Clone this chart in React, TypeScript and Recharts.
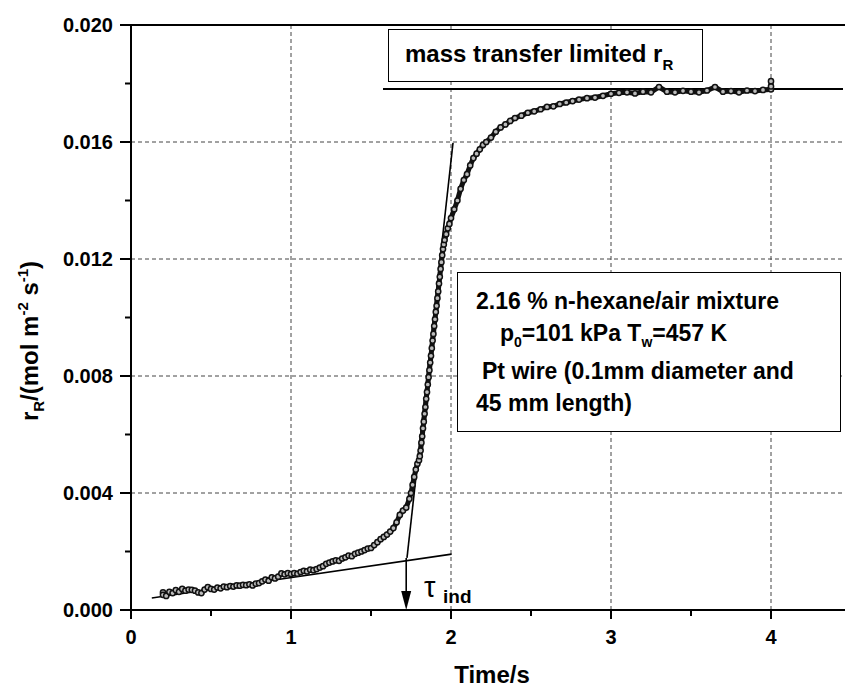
import { CartesianGrid, Line, LineChart, ReferenceDot, ReferenceLine, XAxis, YAxis } from 'recharts';

const FONT = '"Liberation Sans", Arial, Helvetica, sans-serif';

// measured reaction rate r_R (mol m^-2 s^-1) vs time (s)
const times = [
  0.2, 0.2, 0.22, 0.24, 0.26, 0.28, 0.3, 0.32, 0.34, 0.36, 0.38, 0.4, 0.42, 0.44, 0.46, 0.48,
  0.5, 0.52, 0.54, 0.56, 0.58, 0.6, 0.62, 0.64, 0.66, 0.68, 0.7, 0.72, 0.74, 0.76, 0.78,
  0.8, 0.82, 0.84, 0.86, 0.88, 0.9, 0.92, 0.94, 0.96, 0.98, 1.0, 1.02, 1.04, 1.06, 1.08,
  1.1, 1.12, 1.14, 1.16, 1.18, 1.2, 1.22, 1.24, 1.26, 1.28, 1.3, 1.32, 1.34, 1.36, 1.38,
  1.4, 1.42, 1.44, 1.46, 1.48, 1.5, 1.52, 1.54, 1.56, 1.58, 1.6, 1.62, 1.64, 1.66, 1.68,
  1.7, 1.72, 1.74, 1.75, 1.76, 1.77, 1.78, 1.79, 1.8, 1.805, 1.81, 1.815, 1.82, 1.825, 1.83,
  1.835, 1.84, 1.845, 1.85, 1.855, 1.86, 1.865, 1.87, 1.875, 1.88, 1.885, 1.89, 1.895, 1.9,
  1.905, 1.91, 1.915, 1.92, 1.925, 1.93, 1.935, 1.94, 1.945, 1.95, 1.955, 1.96, 1.97, 1.98,
  1.99, 2.0, 2.02, 2.04, 2.06, 2.08, 2.1, 2.12, 2.14, 2.16, 2.18, 2.2, 2.22, 2.25, 2.28,
  2.31, 2.34, 2.37, 2.4, 2.44, 2.48, 2.52, 2.56, 2.6, 2.64, 2.68, 2.72, 2.76, 2.8, 2.85,
  2.9, 2.95, 3.0, 3.05, 3.1, 3.15, 3.2, 3.25, 3.3, 3.35, 3.4, 3.45, 3.5, 3.55, 3.6, 3.65,
  3.7, 3.75, 3.8, 3.85, 3.9, 3.95, 4.0, 4.0, 4.0,
];
const rates = [
  0.0006, 0.00052, 0.00048, 0.00062, 0.00058, 0.00068, 0.00062, 0.00072, 0.00066, 0.0007, 0.00069,
  0.00066, 0.0006, 0.00058, 0.0007, 0.00078, 0.00072, 0.0007, 0.00077, 0.00074, 0.0008, 0.00078,
  0.00082, 0.0008, 0.00084, 0.00083, 0.00086, 0.00085, 0.00088, 0.00084, 0.0009, 0.00092, 0.00098,
  0.00104, 0.001, 0.00112, 0.00108, 0.00114, 0.00125, 0.00122, 0.00126, 0.00123, 0.00126, 0.00124,
  0.0013, 0.00134, 0.00132, 0.00138, 0.00136, 0.0014, 0.00145, 0.0015, 0.00158, 0.00162, 0.00166,
  0.0017, 0.00168, 0.00176, 0.0018, 0.00186, 0.00184, 0.00192, 0.00196, 0.002, 0.00205, 0.0021,
  0.00212, 0.00222, 0.00232, 0.00242, 0.0025, 0.00258, 0.00268, 0.0028, 0.003, 0.00325, 0.0034,
  0.0035, 0.0038, 0.004, 0.00428, 0.00455, 0.0048, 0.005, 0.00512, 0.00526, 0.00545, 0.00572,
  0.00594, 0.00621, 0.00644, 0.00671, 0.00694, 0.00722, 0.00745, 0.00771, 0.00796, 0.0082, 0.00846,
  0.00869, 0.00895, 0.00921, 0.00944, 0.00971, 0.00994, 0.01019, 0.0104, 0.01066, 0.01089, 0.01116,
  0.01139, 0.01166, 0.01189, 0.01213, 0.01234, 0.0125, 0.01265, 0.01285, 0.01305, 0.0132, 0.0134,
  0.0137, 0.014, 0.0144, 0.0147, 0.0149, 0.0152, 0.01545, 0.0156, 0.01575, 0.0159, 0.016, 0.01615,
  0.01635, 0.0165, 0.0166, 0.01672, 0.01682, 0.0169, 0.017, 0.01705, 0.01712, 0.0172, 0.01722,
  0.0173, 0.01735, 0.0174, 0.01745, 0.0175, 0.01752, 0.01758, 0.01765, 0.01768, 0.0177, 0.01766,
  0.01772, 0.0177, 0.01788, 0.01772, 0.0177, 0.01775, 0.01772, 0.0177, 0.01776, 0.01788, 0.01772,
  0.01774, 0.0177, 0.01776, 0.01774, 0.01778, 0.0178, 0.0179, 0.01808,
];

const xTicks = [0, 0.5, 1, 1.5, 2, 2.5, 3, 3.5, 4];
const xMajor = [0, 1, 2, 3, 4];
const yTicks = [0, 0.002, 0.004, 0.006, 0.008, 0.01, 0.012, 0.014, 0.016, 0.018, 0.02];
const yMajor = ['0.000', '0.004', '0.008', '0.012', '0.016', '0.020'];
const xGrid = [1, 2, 3, 4];
const yGrid = [0.004, 0.008, 0.012, 0.016];

const baseTangent = [{ x: 0.13, y: 0.00041 }, { x: 2.004, y: 0.00191 }];
const steepTangent = [{ x: 1.725, y: 0.00178 }, { x: 2.0125, y: 0.01597 }];
const plateauLine = [{ x: 1.575, y: 0.01781 }, { x: 4.45, y: 0.01781 }];
const tauX = 1.72;
const arrowShaft = [{ x: tauX, y: 0.00178 }, { x: tauX, y: 0.0005 }];

const data = times.map((t, i) => ({ t, r: rates[i] }));

function XTick(props: any) {
  const { x, y, payload } = props;
  const major = xMajor.includes(payload.value);
  return (
    <g>
      <line x1={x} y1={y} x2={x} y2={y + (major ? 9 : 6)} stroke="#000" strokeWidth={2} />
      {major && (
        <text x={x} y={y + 34} textAnchor="middle" fontFamily={FONT} fontWeight="bold" fontSize={20} fill="#000">
          {payload.value}
        </text>
      )}
    </g>
  );
}

function YTick(props: any) {
  const { x, y, payload } = props;
  const label = payload.value.toFixed(3);
  const major = yMajor.includes(label);
  return (
    <g>
      <line x1={x} y1={y} x2={x - (major ? 11 : 6)} y2={y} stroke="#000" strokeWidth={2} />
      {major && (
        <text x={x - 18} y={y + 7} textAnchor="end" fontFamily={FONT} fontWeight="bold" fontSize={20} fill="#000">
          {label}
        </text>
      )}
    </g>
  );
}

function ArrowHead(props: any) {
  const { cx, cy } = props;
  return <polygon points={`${cx},${cy} ${cx - 5},${cy - 19} ${cx + 5},${cy - 19}`} fill="#000" />;
}

export default function App() {
  return (
    <div style={{ position: 'absolute', left: 0, top: 0, width: 845, height: 690, overflow: 'hidden', background: '#fff' }}>
      <LineChart width={860} height={690} data={data} margin={{ top: 25, right: 9, left: 0, bottom: 40 }}>
        <CartesianGrid
          stroke="#444"
          strokeDasharray="4 3"
          verticalValues={xGrid}
          horizontalValues={yGrid}
        />
        <XAxis
          dataKey="t"
          type="number"
          domain={[0, 4.5]}
          ticks={xTicks}
          interval={0}
          height={40}
          tickSize={0}
          tickMargin={0}
          tickLine={false}
          tick={<XTick />}
          axisLine={{ stroke: '#000', strokeWidth: 2 }}
          allowDataOverflow
        />
        <YAxis
          type="number"
          domain={[0, 0.02]}
          ticks={yTicks}
          interval={0}
          width={131}
          tickSize={0}
          tickMargin={0}
          tickLine={false}
          tick={<YTick />}
          axisLine={{ stroke: '#000', strokeWidth: 2 }}
          allowDataOverflow
        />
        <ReferenceLine y={0.02} stroke="#000" strokeWidth={2} />
        <ReferenceLine segment={plateauLine} stroke="#000" strokeWidth={2} />
        <ReferenceLine segment={baseTangent} stroke="#000" strokeWidth={1.6} />
        <ReferenceLine segment={steepTangent} stroke="#000" strokeWidth={1.6} />
        <ReferenceLine segment={arrowShaft} stroke="#000" strokeWidth={1.6} />
        <ReferenceDot x={tauX} y={0} shape={<ArrowHead />} ifOverflow="visible" />
        <Line
          dataKey="r"
          stroke="#111"
          strokeWidth={5}
          dot={{ r: 2.6, fill: '#bbb', stroke: '#111', strokeWidth: 1.5 }}
          isAnimationActive={false}
        />
      </LineChart>

      <svg width={845} height={690} style={{ position: 'absolute', left: 0, top: 0, pointerEvents: 'none' }}>
        <g fontFamily={FONT} fontWeight="bold" fill="#000">
          <rect x={388.5} y={29.5} width={314} height={52} fill="#fff" stroke="#000" strokeWidth={1} />
          <text x={405} y={62} fontSize={24}>
            mass transfer limited r<tspan fontSize={15} dy={8}>R</tspan>
          </text>

          <rect x={457.5} y={272.5} width={383} height={159} fill="#fff" stroke="#000" strokeWidth={1} />
          <text x={476} y={309} fontSize={23}>2.16 % n-hexane/air mixture</text>
          <text x={500} y={341} fontSize={23}>
            p<tspan fontSize={14} dy={6}>0</tspan>
            <tspan dy={-6}>=101 kPa T</tspan>
            <tspan fontSize={14} dy={6}>w</tspan>
            <tspan dy={-6}>=457 K</tspan>
          </text>
          <text x={482} y={379} fontSize={23}>Pt wire (0.1mm diameter and</text>
          <text x={476} y={411} fontSize={23}>45 mm length)</text>

          <text x={492} y={683} fontSize={24} textAnchor="middle">Time/s</text>

          <text transform="translate(38, 341) rotate(-90)" x={0} y={0} fontSize={24} textAnchor="middle">
            r<tspan fontSize={15} dy={6}>R</tspan>
            <tspan dy={-6}>/(mol m</tspan>
            <tspan fontSize={15} dy={-10}>-2</tspan>
            <tspan dy={10}> s</tspan>
            <tspan fontSize={15} dy={-10}>-1</tspan>
            <tspan dy={10}>)</tspan>
          </text>

          <text x={424} y={597} fontSize={29} fontWeight="normal">τ</text>
          <text x={443} y={603} fontSize={19}>ind</text>
        </g>
      </svg>
    </div>
  );
}
